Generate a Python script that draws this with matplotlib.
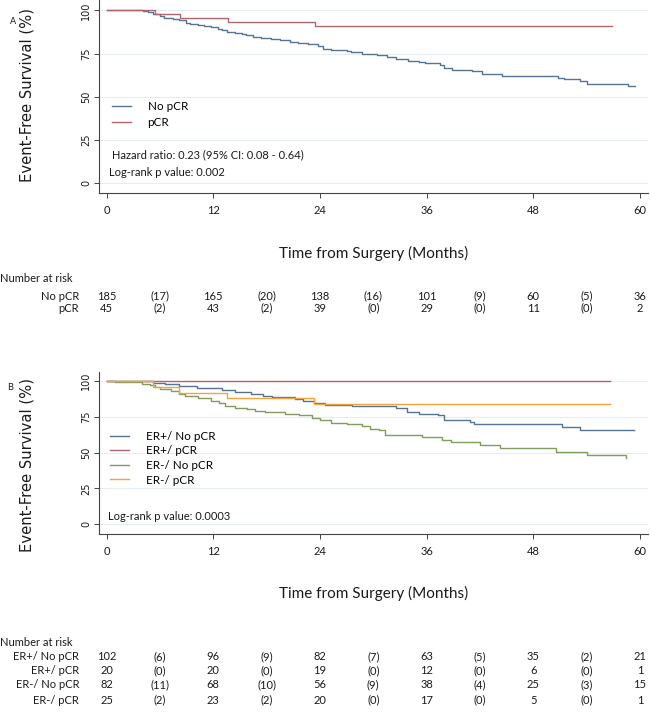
import numpy as np
import matplotlib
matplotlib.use("Agg")
import matplotlib.pyplot as plt
from matplotlib.transforms import blended_transform_factory

# ---- panel A: Kaplan-Meier steps ----
a_nopcr_t = [0, 4.1, 4.7, 5.2, 6.0, 6.5, 7.5, 8.2, 8.9, 9.4, 10.3, 11.0, 11.8, 12.5, 13.0,
             13.5, 14.4, 15.2, 15.7, 16.5, 17.4, 18.5, 19.5, 20.6, 21.5, 22.7, 23.8, 24.4,
             25.3, 27.0, 27.5, 28.7, 30.4, 31.5, 32.6, 33.9, 35.1, 35.8, 37.5, 37.9, 38.8,
             41.1, 42.2, 44.5, 50.8, 51.4, 53.3, 54.0, 58.7, 59.4]
a_nopcr_s = [100, 99.5, 98.8, 97.7, 96.5, 95.6, 94.8, 94.2, 92.9, 91.9, 91.4, 90.9, 90.3, 89.4, 88.4,
             87.3, 86.9, 86.4, 85.7, 84.6, 84.1, 83.4, 82.7, 81.9, 81.1, 80.5, 79.4, 77.9,
             77.3, 76.7, 75.9, 74.8, 74.0, 73.0, 72.1, 70.9, 70.3, 69.5, 68.2, 66.7, 65.5,
             64.6, 63.2, 62.0, 60.9, 60.1, 59.0, 57.6, 56.1, 56.1]
a_pcr_t = [0, 5.4, 8.3, 13.7, 23.5, 56.9]
a_pcr_s = [100, 97.8, 95.6, 93.3, 91.0, 91.0]

# ---- panel B ----
b_erp_nopcr_t = [0, 5.2, 6.6, 8.1, 10.2, 13.0, 14.5, 16.3, 17.6, 18.6, 21.2, 22.1, 23.3, 24.6,
                 27.6, 32.5, 33.8, 35.1, 37.3, 37.9, 40.9, 41.3, 51.2, 53.2, 59.3]
b_erp_nopcr_s = [100, 99.0, 97.8, 96.6, 95.2, 93.6, 92.4, 91.0, 89.6, 88.7, 87.5, 86.3, 84.9, 83.1,
                 82.4, 81.0, 78.4, 77.0, 76.1, 73.0, 71.4, 70.0, 67.7, 65.8, 65.8]
b_erp_pcr_t = [0, 56.6]
b_erp_pcr_s = [100, 100]
b_ern_nopcr_t = [0, 1.0, 4.0, 4.9, 5.5, 6.0, 7.2, 8.1, 8.8, 10.3, 11.8, 12.6, 13.3, 14.5, 15.8,
                 16.7, 17.8, 20.1, 21.6, 23.1, 24.0, 25.3, 27.0, 28.7, 29.6, 30.6, 31.3, 35.5,
                 37.7, 38.7, 42.0, 44.3, 50.6, 54.0, 58.4]
b_ern_nopcr_s = [100, 99.2, 98.3, 97.1, 95.7, 94.3, 92.9, 91.3, 89.6, 88.0, 86.4, 84.7, 82.6, 81.4, 80.3,
                 79.1, 78.2, 77.2, 76.1, 74.4, 72.6, 70.9, 70.0, 68.4, 66.7, 65.6, 62.5, 61.2,
                 59.1, 57.4, 55.1, 53.0, 50.4, 48.3, 46.2]
b_ern_pcr_t = [0, 5.2, 8.2, 13.6, 23.3, 56.6]
b_ern_pcr_s = [100, 96.0, 92.0, 88.0, 83.8, 83.8]

# ---- number at risk tables ----
risk_months = [0, 12, 24, 36, 48, 60]
event_months = [6, 18, 30, 42, 54]
a_labels = ["No pCR", "pCR"]
a_risk = [[185, 165, 138, 101, 60, 36], [45, 43, 39, 29, 11, 2]]
a_events = [[17, 20, 16, 9, 5], [2, 2, 0, 0, 0]]
b_labels = ["ER+/ No pCR", "ER+/ pCR", "ER-/ No pCR", "ER-/ pCR"]
b_risk = [[102, 96, 82, 63, 35, 21], [20, 20, 19, 12, 6, 1],
          [82, 68, 56, 38, 25, 15], [25, 23, 20, 17, 5, 1]]
b_events = [[6, 9, 7, 5, 2], [0, 0, 0, 0, 0], [11, 10, 9, 4, 3], [2, 2, 0, 0, 0]]

BLUE = "#557494"
RED = "#b5646c"
GREEN = "#809d5e"
ORANGE = "#f2a33a"
GRID = "#e5edf0"
TXT = "#1a1a1a"
CAL = ["Lato", "DejaVu Sans"]
FS = 8

W, H = 650, 712
fig = plt.figure(figsize=(6.5, 7.12), dpi=100)


def fx(px):
    return px / W


def fy(py):
    return 1 - py / H


def style_axes(ax, ylim):
    ax.set_xlim(-0.85, 60.9)
    ax.set_ylim(*ylim)
    ax.set_xticks(risk_months)
    ax.set_yticks([0, 25, 50, 75, 100])
    for s in ["top", "right"]:
        ax.spines[s].set_visible(False)
    for s in ["left", "bottom"]:
        ax.spines[s].set_color("#444444")
        ax.spines[s].set_linewidth(0.8)
    ax.grid(axis="y", color=GRID, lw=0.8)
    ax.set_axisbelow(True)
    ax.tick_params(axis="y", labelrotation=90, length=3.5, width=0.7, color="#444444",
                   labelsize=7, pad=2, labelcolor=TXT)
    for lab in ax.get_yticklabels():
        lab.set_va("center")
    ax.tick_params(axis="x", length=3.5, width=0.7, color="#444444", labelsize=FS, pad=5,
                   labelcolor=TXT)
    for lab in ax.get_xticklabels():
        lab.set_family(CAL)
    ax.set_ylabel("Event-Free Survival (%)", fontsize=10.6, color=TXT)
    ax.set_xlabel("Time from Surgery (Months)", fontsize=11, family=CAL, color=TXT)
    ax.xaxis.label.set_va("center")


def risk_table(ax, labels, risk, events, y_title, y_rows):
    tr = blended_transform_factory(ax.transData, fig.transFigure)
    fig.text(0, fy(y_title), "Number at risk", fontsize=FS, family=CAL, va="center", color=TXT)
    for i, lab in enumerate(labels):
        yy = fy(y_rows[i])
        fig.text(fx(79), yy, lab, fontsize=FS, family=CAL, ha="right", va="center", color=TXT)
        for m, n in zip(risk_months, risk[i]):
            ax.text(m, yy, str(n), transform=tr, fontsize=FS, family=CAL, ha="center",
                    va="center", color=TXT, clip_on=False)
        for m, n in zip(event_months, events[i]):
            ax.text(m, yy, f"({n})", transform=tr, fontsize=FS, family=CAL, ha="center",
                    va="center", color=TXT, clip_on=False)


legend_kw = dict(bbox_transform=fig.transFigure, loc="upper left", frameon=False,
                 borderaxespad=0, borderpad=0, handlelength=1.6, handletextpad=1.45,
                 prop={"family": CAL, "size": 8.4})

# ---------------- Panel A ----------------
axA = fig.add_axes([fx(99), fy(193), fx(648 - 99), 193 / H])
style_axes(axA, (-5.8, 106))
axA.step(a_nopcr_t, a_nopcr_s, where="post", color=BLUE, lw=1.0, label="No pCR")
axA.step(a_pcr_t, a_pcr_s, where="post", color=RED, lw=1.0, label="pCR")
axA.yaxis.set_label_coords(-0.117, 0.508)
axA.xaxis.set_label_coords(0.5, (193 - 253) / 193)
axA.legend(bbox_to_anchor=(fx(112), fy(101)), labelspacing=0.4, **legend_kw)
fig.text(fx(112), fy(155), "Hazard ratio: 0.23 (95% CI: 0.08 - 0.64)", fontsize=FS,
         family=CAL, va="center", color=TXT)
fig.text(fx(109), fy(173), "Log-rank p value: 0.002", fontsize=FS, family=CAL, va="center",
         color=TXT)
fig.text(fx(10), fy(21), "A", fontsize=6.5, va="center", color=TXT)
risk_table(axA, a_labels, a_risk, a_events, 279, [296, 308])

# ---------------- Panel B ----------------
axB = fig.add_axes([fx(99), fy(534), fx(648 - 99), 162 / H])
style_axes(axB, (-7.0, 106.5))
axB.step(b_erp_nopcr_t, b_erp_nopcr_s, where="post", color=BLUE, lw=1.0, label="ER+/ No pCR")
axB.step(b_erp_pcr_t, b_erp_pcr_s, where="post", color=RED, lw=1.0, label="ER+/ pCR")
axB.step(b_ern_nopcr_t, b_ern_nopcr_s, where="post", color=GREEN, lw=1.0, label="ER-/ No pCR")
axB.step(b_ern_pcr_t, b_ern_pcr_s, where="post", color=ORANGE, lw=1.0, label="ER-/ pCR")
axB.yaxis.set_label_coords(-0.117, (534 - 465) / 162)
axB.xaxis.set_label_coords(0.5, (534 - 593) / 162)
axB.legend(bbox_to_anchor=(fx(110), fy(431)), labelspacing=0.3, **legend_kw)
fig.text(fx(108), fy(517), "Log-rank p value: 0.0003", fontsize=FS, family=CAL, va="center",
         color=TXT)
fig.text(fx(7), fy(387), "B", fontsize=6.5, va="center", color=TXT)
risk_table(axB, b_labels, b_risk, b_events, 642, [657, 671, 685, 700])

fig.savefig("out.png", dpi=100, facecolor="white")
